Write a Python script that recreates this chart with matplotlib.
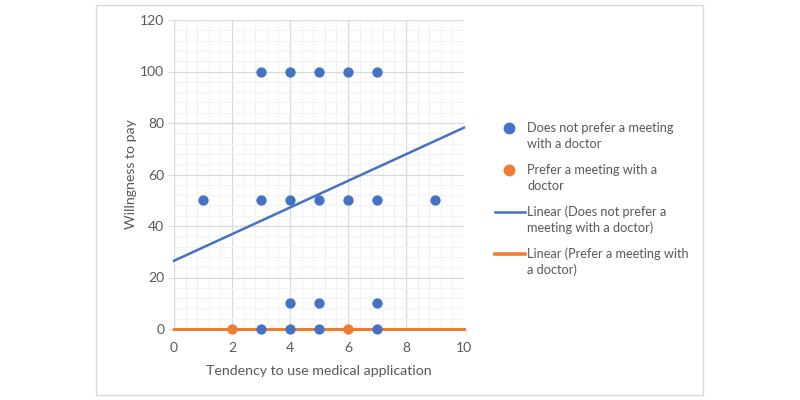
import matplotlib
matplotlib.use("Agg")
import matplotlib.pyplot as plt
import numpy as np
from matplotlib.patches import Rectangle
from matplotlib.lines import Line2D
from matplotlib.ticker import MultipleLocator

plt.rcParams['font.family'] = ['Lato', 'DejaVu Sans']

# Data
no_pref_x = [3, 4, 5, 6, 7, 1, 3, 4, 5, 6, 7, 9, 4, 5, 7, 3, 4, 5, 7]
no_pref_y = [100, 100, 100, 100, 100, 50, 50, 50, 50, 50, 50, 50, 10, 10, 10, 0, 0, 0, 0]
pref_x = [2, 6]
pref_y = [0, 0]
# Trend lines (intercept, slope)
no_pref_trend = (26.5, 5.17)
pref_trend = (0.0, 0.0)

labels = [["Does not prefer a meeting", "with a doctor"],
          ["Prefer a meeting with a", "doctor"],
          ["Linear (Does not prefer a", "meeting with a doctor)"],
          ["Linear (Prefer a meeting with", "a doctor)"]]
x_label = "Tendency to use medical application"
y_label = "Willngness to pay"

blue = "#4472C4"
orange = "#ED7D31"
txt = "#595959"

W, H = 800, 400
fig = plt.figure(figsize=(8, 4), dpi=100)
fig.patches.append(Rectangle((96/W, 5/H), (703-96)/W, (395-5)/H,
                             transform=fig.transFigure, fill=False,
                             edgecolor="#D9D9D9", linewidth=1))
ax = fig.add_axes([174/W, 1-329/H, (464-174)/W, (329-20)/H])

ax.set_xlim(0, 10)
ax.set_ylim(0, 120)
ax.xaxis.set_major_locator(MultipleLocator(2))
ax.xaxis.set_minor_locator(MultipleLocator(0.4))
ax.yaxis.set_major_locator(MultipleLocator(20))
ax.yaxis.set_minor_locator(MultipleLocator(4))
ax.grid(which='minor', color="#F2F2F2", linewidth=0.8, zorder=0)
ax.grid(which='major', color="#D9D9D9", linewidth=0.9, zorder=0)
ax.set_axisbelow(True)
for s in ax.spines.values():
    s.set_visible(False)
ax.spines['left'].set_visible(True)
ax.spines['left'].set_color("#D9D9D9")
ax.spines['bottom'].set_visible(True)
ax.spines['bottom'].set_color("#D9D9D9")
ax.tick_params(which='both', length=0, colors=txt, labelsize=10)
ax.tick_params(axis='y', which='major', length=4, color="#D9D9D9", pad=3)
ax.tick_params(axis='x', which='major', pad=9)

xs = np.array([0, 10])
ax.plot(xs, no_pref_trend[0] + no_pref_trend[1]*xs, color=blue, lw=1.8, zorder=3, clip_on=False)
ax.plot(xs, pref_trend[0] + pref_trend[1]*xs, color=orange, lw=2.2, zorder=3, clip_on=False)
ax.scatter(no_pref_x, no_pref_y, s=55, color=blue, zorder=4, clip_on=False, linewidths=0)
ax.scatter(pref_x, pref_y, s=55, color=orange, zorder=4, clip_on=False, linewidths=0)

ax.set_xlabel(x_label, color=txt, fontsize=10.2, labelpad=8)
ax.set_ylabel(y_label, color=txt, fontsize=10.2, labelpad=2)

# Legend drawn manually (handle aligned with first text line, as in Excel)
kinds = [('marker', blue), ('marker', orange), ('line', blue), ('line', orange)]
for i, ((kind, col), lab) in enumerate(zip(kinds, labels)):
    yc = 128 + 42*i
    if kind == 'marker':
        fig.add_artist(Line2D([509/W], [1-yc/H], marker='o', color=col,
                              markersize=7.5, linestyle='none', transform=fig.transFigure))
    else:
        fig.add_artist(Line2D([495/W, 525/W], [1-yc/H, 1-yc/H], color=col,
                              lw=1.8 if i == 2 else 2.6, transform=fig.transFigure))
    for j, line in enumerate(lab):
        fig.text(527/W, 1-(yc+16*j)/H, line, color=txt, fontsize=9.2,
                 va='center', ha='left')

fig.savefig("out.png", dpi=100)
